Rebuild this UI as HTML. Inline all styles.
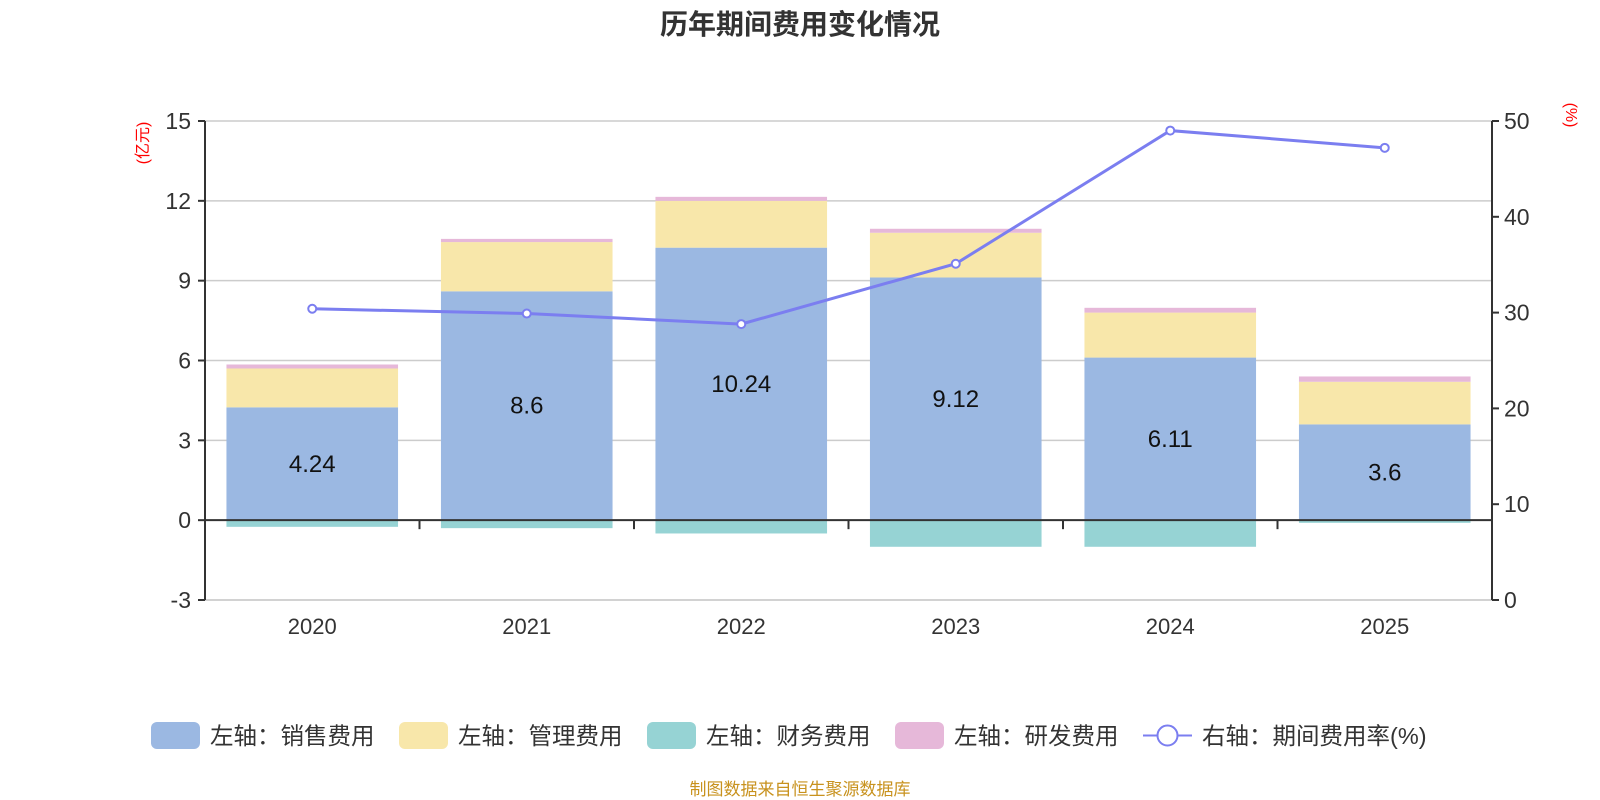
<!DOCTYPE html>
<html><head><meta charset="utf-8"><style>
body{margin:0;background:#fff;}
svg{display:block;font-family:"Liberation Sans","Noto Sans CJK SC",sans-serif;}
</style></head><body>
<svg id="c" width="1600" height="800" viewBox="0 0 1600 800">
<text x="800" y="34" text-anchor="middle" font-size="28" font-weight="bold" fill="#333">历年期间费用变化情况</text>
<text transform="translate(148,143) rotate(-90)" text-anchor="middle" font-size="16" fill="#f00">(亿元)</text>
<text transform="translate(1566,115) rotate(90)" text-anchor="middle" font-size="16" fill="#f00">(%)</text>
<g id="grid"></g><g id="bars"></g><g id="axes"></g><g id="line"></g>
<g id="legend"></g>
<text x="800" y="795" text-anchor="middle" font-size="17" fill="#c8921e">制图数据来自恒生聚源数据库</text>
</svg>
<script>
const categories=['2020','2021','2022','2023','2024','2025'];
const sales=[4.24,8.6,10.24,9.12,6.11,3.6];
const admin=[1.46,1.85,1.76,1.68,1.69,1.6];
const finance=[-0.25,-0.3,-0.5,-1.0,-1.0,-0.1];
const rnd=[0.15,0.12,0.15,0.15,0.18,0.2];
const rate=[30.4,29.9,28.8,35.1,49.0,47.2];
const leftTicks=[-3,0,3,6,9,12,15];
const rightTicks=[0,10,20,30,40,50];
const NS='http://www.w3.org/2000/svg';
const X0=205,X1=1492,YT=121,YB=600;
const yL=v=>YT+(15-v)*(YB-YT)/18;
const yR=v=>YB-v*(YB-YT)/50;
const bw=(X1-X0)/categories.length;
const xC=i=>X0+bw*(i+0.5);
function mk(t,a,p){const e=document.createElementNS(NS,t);for(const k in a)e.setAttribute(k,a[k]);p.appendChild(e);return e;}
const G=document.getElementById('grid'),B=document.getElementById('bars'),A=document.getElementById('axes'),L=document.getElementById('line'),LG=document.getElementById('legend');
leftTicks.forEach(v=>{
 if(v!==0){const g=mk('line',{x1:X0,x2:X1,y1:yL(v),y2:yL(v),stroke:'#ccc','stroke-width':1.5},G);
 
 }
 mk('line',{x1:X0-7,x2:X0,y1:yL(v),y2:yL(v),stroke:'#333','stroke-width':2},A);
 const t=mk('text',{x:X0-14,y:yL(v)+8,'text-anchor':'end','font-size':23,fill:'#333'},A);t.textContent=v;
 
 
});
rightTicks.forEach(v=>{
 mk('line',{x1:X1,x2:X1+7,y1:yR(v),y2:yR(v),stroke:'#333','stroke-width':2},A);
 const t=mk('text',{x:X1+12,y:yR(v)+8,'font-size':23,fill:'#333'},A);t.textContent=v;
 
 
});
const colors={sales:'#9bb8e2',admin:'#f8e7aa',finance:'#96d3d4',rnd:'#e6b8d9'};
categories.forEach((c,i)=>{
 const x=xC(i)-bw*0.4,w=bw*0.8;
 const segs=[['sales',0,sales[i]],['admin',sales[i],sales[i]+admin[i]],['rnd',sales[i]+admin[i],sales[i]+admin[i]+rnd[i]],['finance',finance[i],0]];
 segs.forEach(s=>{const r=mk('rect',{x:x,width:w,y:yL(s[2]),height:yL(s[1])-yL(s[2]),fill:colors[s[0]]},B);
  
  });
 const t=mk('text',{x:xC(i),y:yL(sales[i]/2)+8,'text-anchor':'middle','font-size':24,fill:'#111'},B);t.textContent=sales[i];
 
 
 const xl=mk('text',{x:xC(i),y:634,'text-anchor':'middle','font-size':22,fill:'#333'},A);xl.textContent=c;
 
 
});
for(let i=0;i<=categories.length;i++){const xx=X0+bw*i;mk('line',{x1:xx,x2:xx,y1:yL(0),y2:yL(0)+9,stroke:'#333','stroke-width':2},A);}
mk('line',{x1:X0,x2:X1,y1:yL(0),y2:yL(0),stroke:'#333','stroke-width':2},A);
mk('line',{x1:X0,x2:X0,y1:YT,y2:YB,stroke:'#333','stroke-width':2},A);
mk('line',{x1:X1,x2:X1,y1:YT,y2:YB,stroke:'#333','stroke-width':2},A);
mk('line',{x1:X0,x2:X1,y1:YB,y2:YB,stroke:'#ccc','stroke-width':1.5},G);
const pl=mk('polyline',{points:rate.map((v,i)=>xC(i)+','+yR(v)).join(' '),fill:'none',stroke:'#7b7ef0','stroke-width':3},L);


rate.forEach((v,i)=>{const p=mk('circle',{cx:xC(i),cy:yR(v),r:4,fill:'#fff',stroke:'#7b7ef0','stroke-width':2},L);
 
 });
const legendItems=[['左轴：销售费用',colors.sales,151],['左轴：管理费用',colors.admin,399],['左轴：财务费用',colors.finance,647],['左轴：研发费用',colors.rnd,895],['右轴：期间费用率(%)',null,1143]];
legendItems.forEach(it=>{
 const g=mk('g',{},LG);
 
 
 if(it[1])mk('rect',{x:it[2],y:722,width:49,height:27,rx:6,fill:it[1]},g);
 else{mk('line',{x1:it[2],x2:it[2]+49,y1:735.5,y2:735.5,stroke:'#7b7ef0','stroke-width':2},g);mk('circle',{cx:it[2]+24.5,cy:735.5,r:10,fill:'#fff',stroke:'#7b7ef0','stroke-width':2},g);}
 const t=mk('text',{x:it[2]+59,y:744,'font-size':23.5,fill:'#333'},g);t.textContent=it[0];
});
</script>
</body></html>
